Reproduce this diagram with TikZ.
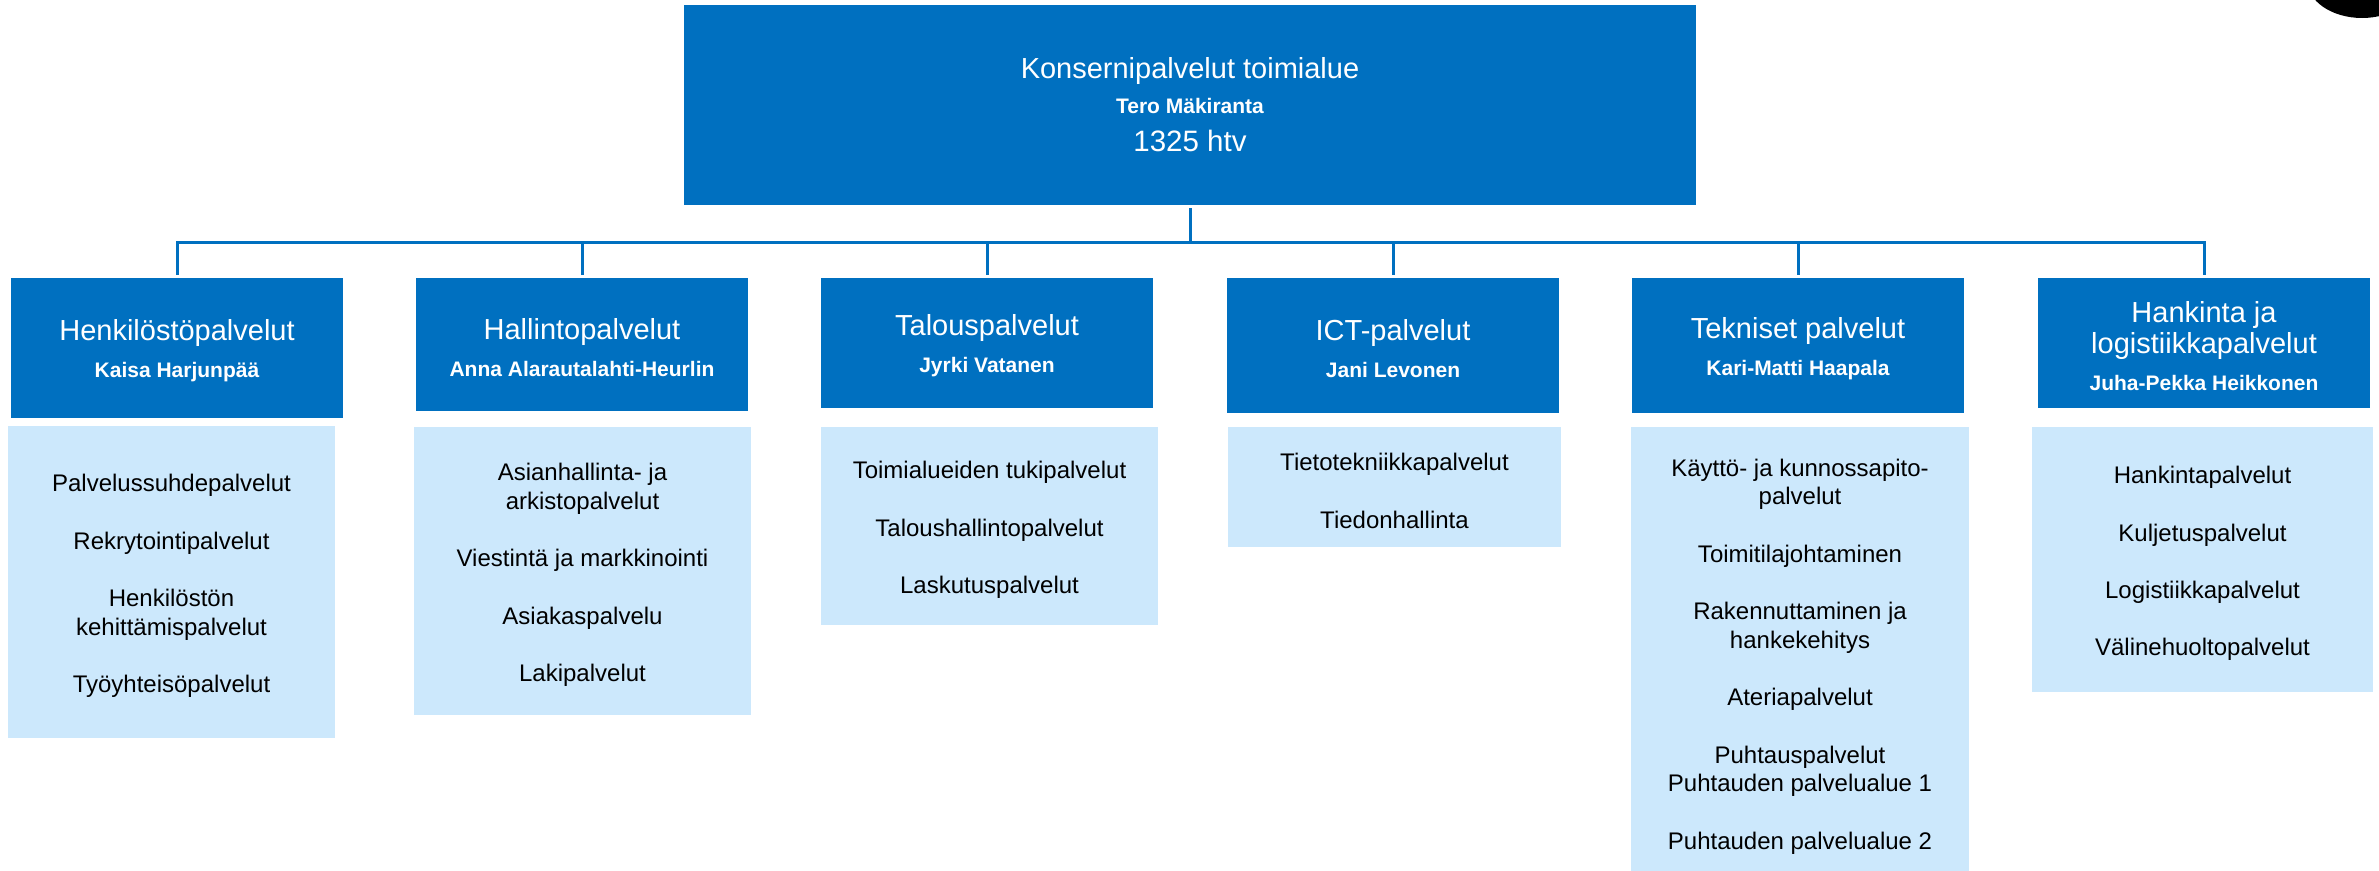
\documentclass[tikz,border=0pt]{standalone}
\usepackage{fontspec}
\setmainfont{Liberation Sans}
\definecolor{dblue}{HTML}{0070C0}
\definecolor{lblue}{HTML}{CCE8FC}
\newcommand\nmtxt[1]{{\fontsize{21}{25}\selectfont\bfseries #1}}
\begin{document}
\begin{tikzpicture}[x=1pt,y=-1pt,
  dark/.style={fill=dblue, inner sep=0pt, minimum width=332pt},
  darktext/.style={text=white, inner sep=0pt, align=center, yshift=-3pt,
    font=\fontsize{29}{31}\selectfont},
  topbox/.style={fill=dblue, text=white, inner sep=0pt, align=center,
    minimum width=1012pt, minimum height=200pt, font=\fontsize{29}{35}\selectfont},
  light/.style={fill=lblue, inner sep=0pt},
  lighttext/.style={text=black, inner sep=0pt, align=center, yshift=-4pt,
    font=\fontsize{24}{28.7}\selectfont},
  conn/.style={draw=dblue, line width=3pt, shorten <=3pt, shorten >=3pt}]
\useasboundingbox (0,0) rectangle (2379,870);
\fill[black] (2362,-20) ellipse [x radius=55pt, y radius=38pt];

% top box
\node[topbox] (top) at (1190,105) {Konsernipalvelut toimialue\\\nmtxt{Tero Mäkiranta}\\[3pt]\fontsize{29.5}{35}\selectfont 1325 htv};

% department boxes
\node[dark, minimum height=140pt] (d1) at (177,348) {};
\node[dark, minimum height=133pt] (d2) at (582,344.5) {};
\node[dark, minimum height=130pt] (d3) at (987,343) {};
\node[dark, minimum height=135pt] (d4) at (1393,345.5) {};
\node[dark, minimum height=135pt] (d5) at (1798,345.5) {};
\node[dark, minimum height=130pt] (d6) at (2204,343) {};
\node[darktext] (dt1) at (d1) {Henkilöstöpalvelut\\[6pt]\nmtxt{Kaisa Harjunpää}};
\node[darktext] (dt2) at (d2) {Hallintopalvelut\\[6pt]\nmtxt{Anna Alarautalahti-Heurlin}};
\node[darktext] (dt3) at (d3) {Talouspalvelut\\[6pt]\nmtxt{Jyrki Vatanen}};
\node[darktext] (dt4) at (d4) {ICT-palvelut\\[6pt]\nmtxt{Jani Levonen}};
\node[darktext] (dt5) at (d5) {Tekniset palvelut\\[6pt]\nmtxt{Kari-Matti Haapala}};
\node[darktext] (dt6) at (d6) {Hankinta ja\\logistiikkapalvelut\\[6pt]\nmtxt{Juha-Pekka Heikkonen}};

% connectors
\foreach \d in {d1,d2,d3,d4,d5,d6}
  \draw[conn] (top.south) -- ++(0,37) -| (\d.north);

% service boxes
\node[light, minimum width=327pt, minimum height=312pt] (l1) at (171.5,582) {};
\node[light, minimum width=337pt, minimum height=288pt] (l2) at (582.5,571) {};
\node[light, minimum width=337pt, minimum height=198pt] (l3) at (989.5,526) {};
\node[light, minimum width=333pt, minimum height=120pt] (l4) at (1394.5,487) {};
\node[light, minimum width=338pt, minimum height=451pt] (l5) at (1800,652.5) {};
\node[light, minimum width=341pt, minimum height=265pt] (l6) at (2202.5,559.5) {};
\node[lighttext] (lt1) at (l1) {Palvelussuhdepalvelut\\[28.7pt]Rekrytointipalvelut\\[28.7pt]Henkilöstön\\kehittämispalvelut\\[28.7pt]Työyhteisöpalvelut};
\node[lighttext] (lt2) at (l2) {Asianhallinta- ja\\arkistopalvelut\\[28.7pt]Viestintä ja markkinointi\\[28.7pt]Asiakaspalvelu\\[28.7pt]Lakipalvelut};
\node[lighttext] (lt3) at (l3) {Toimialueiden tukipalvelut\\[28.7pt]Taloushallintopalvelut\\[28.7pt]Laskutuspalvelut};
\node[lighttext] (lt4) at (l4) {Tietotekniikkapalvelut\\[28.7pt]Tiedonhallinta};
\node[lighttext] (lt5) at (l5) {Käyttö- ja kunnossapito-\\palvelut\\[28.7pt]Toimitilajohtaminen\\[28.7pt]Rakennuttaminen ja\\hankekehitys\\[28.7pt]Ateriapalvelut\\[28.7pt]Puhtauspalvelut\\Puhtauden palvelualue 1\\[28.7pt]Puhtauden palvelualue 2};
\node[lighttext] (lt6) at (l6) {Hankintapalvelut\\[28.7pt]Kuljetuspalvelut\\[28.7pt]Logistiikkapalvelut\\[28.7pt]Välinehuoltopalvelut};
\end{tikzpicture}
\end{document}
